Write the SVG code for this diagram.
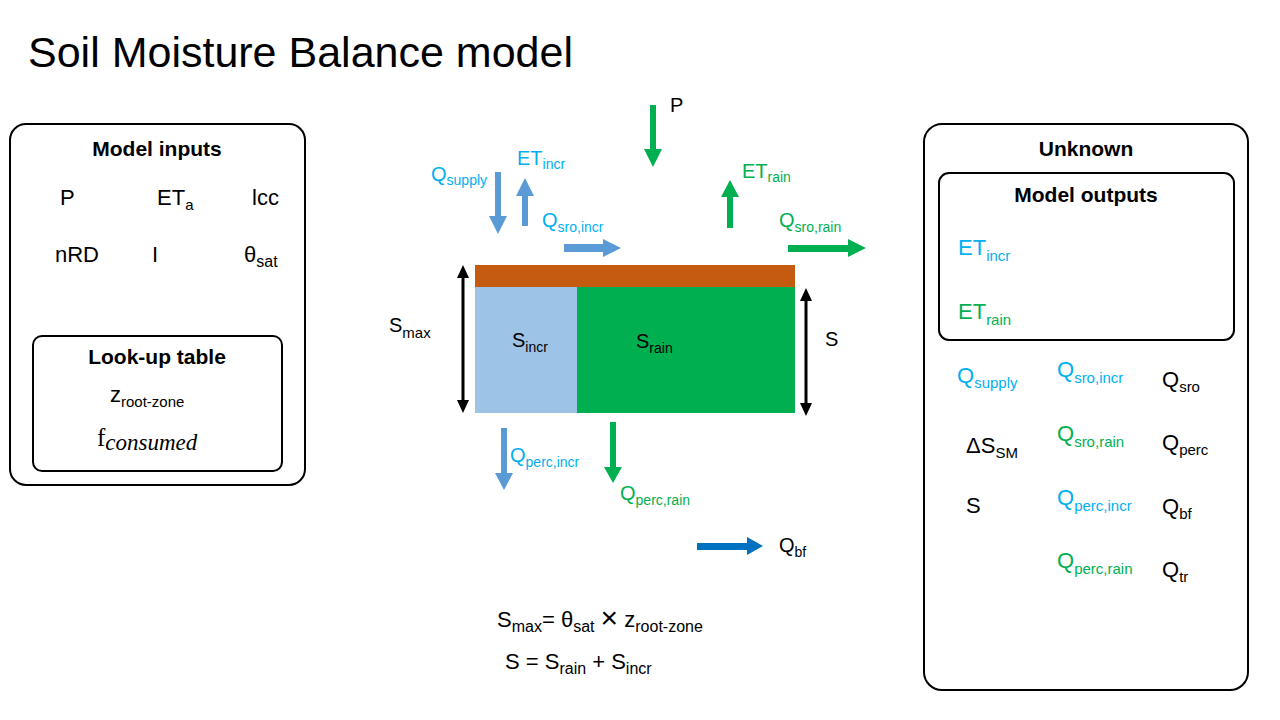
<svg xmlns="http://www.w3.org/2000/svg" width="1280" height="720" viewBox="0 0 1280 720">
<style>
text{font-family:"Liberation Sans",Arial,sans-serif;fill:#000}
text.serif{font-family:"Liberation Serif","Times New Roman",serif}
.t{font-size:43px}
.h{font-size:21px;font-weight:bold;text-anchor:middle}
.m{font-size:20px}
.f{font-size:22px}
.r{font-size:22px}
.c{fill:#00B0F0}
.g{fill:#00B050}
.box{fill:none;stroke:#000;stroke-width:2}
.ab{fill:#5B9BD5}
.ag{fill:#00B050}
.ad{fill:#0070C0}
.ak{fill:#000}
</style>
<rect width="1280" height="720" fill="#fff"/>
<text id="title" class="t" x="28" y="67">Soil Moisture Balance model</text>

<g id="inputs">
<rect class="box" x="10" y="124" width="295" height="361" rx="16"/>
<text class="h" x="157" y="156">Model inputs</text>
<text class="r" x="60" y="205">P</text>
<text class="r" x="157" y="205">ET<tspan dy="5" font-size="15">a</tspan></text>
<text class="r" x="252" y="205">lcc</text>
<text class="r" x="55" y="262">nRD</text>
<text class="r" x="152" y="262">I</text>
<text class="r" x="244" y="262">θ<tspan dy="5" font-size="16">sat</tspan></text>
</g>

<g id="lookup">
<rect class="box" x="33" y="336" width="249" height="135" rx="9"/>
<text class="h" x="157" y="364" font-size="20">Look-up table</text>
<text class="r" x="110" y="402">z<tspan dy="5" font-size="15">root-zone</tspan></text>
<text class="serif" x="97" y="446" font-size="25">f<tspan dy="4" font-style="italic" font-size="23">consumed</tspan></text>
</g>

<g id="storage">
<rect x="475" y="265" width="320" height="22" fill="#C55A11"/>
<rect x="475" y="287" width="102" height="126" fill="#9DC3E6"/>
<rect x="577" y="287" width="218" height="126" fill="#00B050"/>
<text class="m" x="512" y="347">S<tspan dy="5" font-size="14">incr</tspan></text>
<text class="m" x="636" y="348">S<tspan dy="5" font-size="14">rain</tspan></text>
</g>

<g id="smax-label"><text class="m" x="389" y="332">S<tspan dy="6" font-size="15">max</tspan></text></g>
<g id="s-label"><text class="m" x="825" y="346">S</text></g>

<g id="flow-labels">
<text class="m c" x="431" y="181">Q<tspan dy="4" font-size="14">supply</tspan></text>
<text class="m c" x="517" y="165">ET<tspan dy="4" font-size="14">incr</tspan></text>
<text class="m c" x="542" y="227">Q<tspan dy="5" font-size="14">sro,incr</tspan></text>
<text class="m" x="670" y="112">P</text>
<text class="m g" x="742" y="178">ET<tspan dy="4" font-size="14">rain</tspan></text>
<text class="m g" x="779" y="227">Q<tspan dy="5" font-size="14">sro,rain</tspan></text>
<text class="m c" x="510" y="462">Q<tspan dy="5" font-size="14">perc,incr</tspan></text>
<text class="m g" x="620" y="500">Q<tspan dy="5" font-size="14">perc,rain</tspan></text>
<text class="m" x="779" y="552">Q<tspan dy="5" font-size="14">bf</tspan></text>
</g>

<g id="connectors">
<polygon class="ab" points="495,172 501,172 501,216 507,216 498,234 489,216 495,216"/>
<polygon class="ab" points="522,226 528,226 528,196 534,196 525,178 516,196 522,196"/>
<polygon class="ab" points="564,244 603,244 603,239 621,248 603,257 603,252 564,252"/>
<polygon class="ag" points="650,105 656,105 656,149 662,149 653,167 644,149 650,149"/>
<polygon class="ag" points="727,228 733,228 733,197 739,197 730,180 721,197 727,197"/>
<polygon class="ag" points="788,245 848,245 848,239 866,248 848,257 848,252 788,252"/>
<polygon class="ab" points="501,428 507,428 507,473 513,473 504,490 495,473 501,473"/>
<polygon class="ag" points="610,422 616,422 616,467 622,467 613,483 604,467 610,467"/>
<polygon class="ad" points="697,543 747,543 747,537 763,546 747,555 747,550 697,550"/>
<polygon class="ak" points="463,265 469,278 464.5,278 464.5,400 469,400 463,413 457,400 461.5,400 461.5,278 457,278"/>
<polygon class="ak" points="806,288 812,301 807.5,301 807.5,403 812,403 806,416 800,403 804.5,403 804.5,301 800,301"/>
</g>

<g id="formulas">
<text class="f" x="497" y="627">S<tspan dy="5" font-size="16">max</tspan><tspan dy="-5">= θ</tspan><tspan dy="5" font-size="16">sat</tspan><tspan dy="-5"> </tspan><tspan font-size="30" dy="1">×</tspan><tspan dy="-1"> z</tspan><tspan dy="5" font-size="16">root-zone</tspan></text>
<text class="f" x="505" y="669">S = S<tspan dy="5" font-size="16">rain</tspan><tspan dy="-5"> + S</tspan><tspan dy="5" font-size="16">incr</tspan></text>
</g>

<g id="unknown">
<rect class="box" x="924" y="124" width="324" height="566" rx="18"/>
<text class="h" x="1086" y="156">Unknown</text>
<text class="r c" x="957" y="383">Q<tspan dy="5" font-size="15">supply</tspan></text>
<text class="r c" x="1057" y="377">Q<tspan dy="6" font-size="15">sro,incr</tspan></text>
<text class="r" x="1162" y="387">Q<tspan dy="5" font-size="15">sro</tspan></text>
<text class="r" x="966" y="453">ΔS<tspan dy="5" font-size="15">SM</tspan></text>
<text class="r g" x="1057" y="441">Q<tspan dy="6" font-size="15">sro,rain</tspan></text>
<text class="r" x="1162" y="450">Q<tspan dy="5" font-size="15">perc</tspan></text>
<text class="r" x="966" y="513">S</text>
<text class="r c" x="1057" y="505">Q<tspan dy="6" font-size="15">perc,incr</tspan></text>
<text class="r" x="1162" y="514">Q<tspan dy="5" font-size="15">bf</tspan></text>
<text class="r g" x="1057" y="568">Q<tspan dy="6" font-size="15">perc,rain</tspan></text>
<text class="r" x="1162" y="577">Q<tspan dy="5" font-size="15">tr</tspan></text>
</g>

<g id="outputs">
<rect class="box" x="939" y="173" width="295" height="167" rx="10"/>
<text class="h" x="1086" y="202">Model outputs</text>
<text class="r c" x="958" y="255">ET<tspan dy="6" font-size="15">incr</tspan></text>
<text class="r g" x="958" y="319">ET<tspan dy="6" font-size="15">rain</tspan></text>
</g>
</svg>
